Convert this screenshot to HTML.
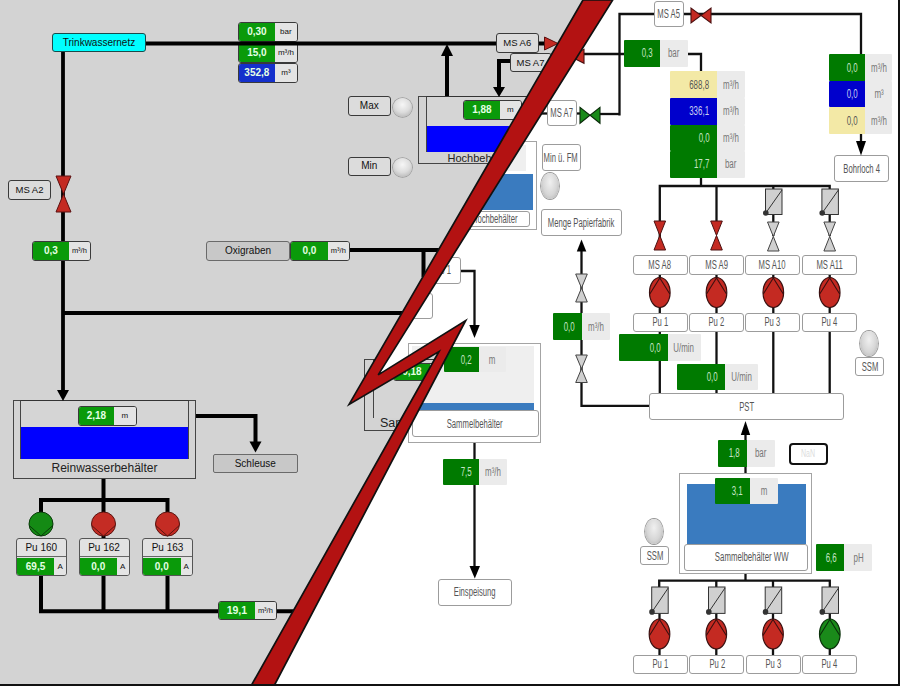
<!DOCTYPE html>
<html><head><meta charset="utf-8"><style>
*{margin:0;padding:0;box-sizing:border-box}
html,body{width:900px;height:686px;overflow:hidden;background:#fff;font-family:"Liberation Sans", sans-serif}
.layer{position:absolute;left:0;top:0;width:900px;height:686px;overflow:hidden}
svg{position:absolute;left:0;top:0}
.lb{position:absolute;border:1px solid;display:flex;align-items:center;justify-content:center;white-space:nowrap;line-height:1}
.lv{position:absolute;border:1px solid #3a3a3a;border-radius:3px;overflow:hidden;display:flex}
.lvg{height:100%;display:flex;align-items:center;justify-content:center;font-weight:bold;line-height:1;white-space:nowrap}
.lvu{height:100%;background:#e4e4e4;color:#111;display:flex;align-items:center;justify-content:center;line-height:1;white-space:nowrap;}
.ltank{position:absolute;border:1px solid #444;background:#d3d3d3}
.ltin{position:absolute;border:1px solid #444;border-top:1.4px solid #333;border-bottom:none;background:#d5d5d5}
.ltxt{position:absolute;text-align:center;color:#222;line-height:1;white-space:nowrap}
.lamp{position:absolute;border-radius:50%;background:radial-gradient(circle at 50% 35%, #f6f6f6 0%, #dcdcdc 50%, #a8a8a8 100%);box-shadow:0 0 0 0.8px #999}
.rb{position:absolute;border:1.3px solid;border-radius:3px;display:flex;align-items:center;justify-content:center;white-space:nowrap;line-height:1;overflow:visible}
.rb span{display:inline-block}
.rv{position:absolute;display:flex;border-radius:1px;overflow:hidden}
.rvg{height:100%;display:flex;align-items:center;justify-content:flex-end;padding-right:7.2px;white-space:nowrap;line-height:1}
.rvg span,.rvu span{display:inline-block}
.rvu{height:100%;background:#ebebeb;color:#777;display:flex;align-items:center;justify-content:center;white-space:nowrap;line-height:1}
.rtank{position:absolute;border:1.3px solid #a4a4a4;background:#fff}
.rlamp{position:absolute;border-radius:50%;background:radial-gradient(ellipse at 50% 35%, #f0f0f0 0%, #d6d6d6 55%, #aaaaaa 100%);box-shadow:0 0 0 0.9px #999}
</style></head><body>
<div class="layer" id="right" style="background:#fff">
<svg width="900" height="686"><polyline points="583,54 624,54" fill="none" stroke="#111" stroke-width="2.3" stroke-linejoin="miter"/><polyline points="528,113.5 547,113.5" fill="none" stroke="#111" stroke-width="2.3" stroke-linejoin="miter"/><polyline points="576,113.5 581,113.5" fill="none" stroke="#111" stroke-width="2.3" stroke-linejoin="miter"/><polyline points="688,54 701,54 701,72" fill="none" stroke="#111" stroke-width="2.3" stroke-linejoin="miter"/><polyline points="619.5,114 600,114" fill="none" stroke="#111" stroke-width="2.3" stroke-linejoin="miter"/><polyline points="619.5,115.5 619.5,14 654,14" fill="none" stroke="#111" stroke-width="2.3" stroke-linejoin="miter"/><polyline points="684,14 861,14 861,55" fill="none" stroke="#111" stroke-width="2.3" stroke-linejoin="miter"/><polyline points="861,134 861,142" fill="none" stroke="#111" stroke-width="2.3" stroke-linejoin="miter"/><polyline points="701,177 701,186" fill="none" stroke="#111" stroke-width="2.3" stroke-linejoin="miter"/><polyline points="659.8,244 659.8,186 829.7,186 829.7,200" fill="none" stroke="#111" stroke-width="2.3" stroke-linejoin="miter"/><polyline points="716.5,186 716.5,222" fill="none" stroke="#111" stroke-width="2.3" stroke-linejoin="miter"/><polyline points="773.3,186 773.3,200" fill="none" stroke="#111" stroke-width="2.3" stroke-linejoin="miter"/><polyline points="659.8,262 659.8,393" fill="none" stroke="#111" stroke-width="2.3" stroke-linejoin="miter"/><polyline points="716.5,262 716.5,393" fill="none" stroke="#111" stroke-width="2.3" stroke-linejoin="miter"/><polyline points="773.3,262 773.3,393" fill="none" stroke="#111" stroke-width="2.3" stroke-linejoin="miter"/><polyline points="829.7,262 829.7,393" fill="none" stroke="#111" stroke-width="2.3" stroke-linejoin="miter"/><polyline points="773.3,214 773.3,236" fill="none" stroke="#111" stroke-width="2.3" stroke-linejoin="miter"/><polyline points="829.7,214 829.7,236" fill="none" stroke="#111" stroke-width="2.3" stroke-linejoin="miter"/><polyline points="581.5,250 581.5,405.8 649,405.8" fill="none" stroke="#111" stroke-width="2.3" stroke-linejoin="miter"/><polyline points="461,271 474.5,271 474.5,326" fill="none" stroke="#111" stroke-width="2.3" stroke-linejoin="miter"/><polyline points="474.5,443 474.5,567" fill="none" stroke="#111" stroke-width="2.3" stroke-linejoin="miter"/><polyline points="745.5,434 745.5,484" fill="none" stroke="#111" stroke-width="2.3" stroke-linejoin="miter"/><polyline points="745.5,570 745.5,580.7" fill="none" stroke="#111" stroke-width="2.3" stroke-linejoin="miter"/><polyline points="659.2,590 659.2,580.7 829.8,580.7 829.8,590" fill="none" stroke="#111" stroke-width="2.3" stroke-linejoin="miter"/><polyline points="716.3,580.7 716.3,590" fill="none" stroke="#111" stroke-width="2.3" stroke-linejoin="miter"/><polyline points="773,580.7 773,590" fill="none" stroke="#111" stroke-width="2.3" stroke-linejoin="miter"/><polyline points="659.5,612 659.5,655" fill="none" stroke="#111" stroke-width="2.3" stroke-linejoin="miter"/><polyline points="716.3,612 716.3,655" fill="none" stroke="#111" stroke-width="2.3" stroke-linejoin="miter"/><polyline points="773,612 773,655" fill="none" stroke="#111" stroke-width="2.3" stroke-linejoin="miter"/><polyline points="829.8,612 829.8,655" fill="none" stroke="#111" stroke-width="2.3" stroke-linejoin="miter"/></svg>
<div class="rb" style="left:654px;top:1px;width:30px;height:26px;border-color:#9c9c9c;background:#fff;color:#555;"><span style="font-size:12px;transform:scaleX(0.64)">MS A5</span></div><div class="rv" style="left:624px;top:40px;width:64px;height:26.5px;"><div class="rvg" style="width:36px;background:#007a00;color:#c4e4c4"><span style="font-size:12px;transform:scaleX(0.66);transform-origin:right center">0,3</span></div><div class="rvu" style="width:28px"><span style="font-size:12px;transform:scaleX(0.66)">bar</span></div></div><div class="rv" style="left:669.5px;top:71px;width:75.5px;height:27px;"><div class="rvg" style="width:47px;background:#f3e9a6;color:#555"><span style="font-size:12px;transform:scaleX(0.66);transform-origin:right center">688,8</span></div><div class="rvu" style="width:28.5px"><span style="font-size:12px;transform:scaleX(0.66)">m&sup3;/h</span></div></div><div class="rv" style="left:669.5px;top:98px;width:75.5px;height:26.5px;"><div class="rvg" style="width:47px;background:#0000cc;color:#c8d0f0"><span style="font-size:12px;transform:scaleX(0.66);transform-origin:right center">336,1</span></div><div class="rvu" style="width:28.5px"><span style="font-size:12px;transform:scaleX(0.66)">m&sup3;/h</span></div></div><div class="rv" style="left:669.5px;top:124.5px;width:75.5px;height:26.5px;"><div class="rvg" style="width:47px;background:#007a00;color:#c4e4c4"><span style="font-size:12px;transform:scaleX(0.66);transform-origin:right center">0,0</span></div><div class="rvu" style="width:28.5px"><span style="font-size:12px;transform:scaleX(0.66)">m&sup3;/h</span></div></div><div class="rv" style="left:669.5px;top:151px;width:75.5px;height:26.5px;"><div class="rvg" style="width:47px;background:#007a00;color:#c4e4c4"><span style="font-size:12px;transform:scaleX(0.66);transform-origin:right center">17,7</span></div><div class="rvu" style="width:28.5px"><span style="font-size:12px;transform:scaleX(0.66)">bar</span></div></div><div class="rv" style="left:829px;top:54.3px;width:63px;height:26.5px;"><div class="rvg" style="width:36px;background:#007a00;color:#c4e4c4"><span style="font-size:12px;transform:scaleX(0.66);transform-origin:right center">0,0</span></div><div class="rvu" style="width:27px"><span style="font-size:12px;transform:scaleX(0.66)">m&sup3;/h</span></div></div><div class="rv" style="left:829px;top:80.8px;width:63px;height:26.5px;"><div class="rvg" style="width:36px;background:#0000cc;color:#c8d0f0"><span style="font-size:12px;transform:scaleX(0.66);transform-origin:right center">0,0</span></div><div class="rvu" style="width:27px"><span style="font-size:12px;transform:scaleX(0.66)">m&sup3;</span></div></div><div class="rv" style="left:829px;top:107.3px;width:63px;height:26.5px;"><div class="rvg" style="width:36px;background:#f3e9a6;color:#555"><span style="font-size:12px;transform:scaleX(0.66);transform-origin:right center">0,0</span></div><div class="rvu" style="width:27px"><span style="font-size:12px;transform:scaleX(0.66)">m&sup3;/h</span></div></div><div class="rb" style="left:833.5px;top:155px;width:55.5px;height:27px;border-color:#9c9c9c;background:#fff;color:#555;"><span style="font-size:12px;transform:scaleX(0.64)">Bohrloch 4</span></div><div class="rb" style="left:546.5px;top:100px;width:30px;height:26px;border-color:#9c9c9c;background:#fff;color:#555;"><span style="font-size:12px;transform:scaleX(0.64)">MS A7</span></div><div class="rb" style="left:541.5px;top:143.5px;width:39px;height:27.5px;border-color:#9c9c9c;background:#fff;color:#555;padding-top:2px"><span style="font-size:12px;transform:scaleX(0.64)">Min &uuml;. FM</span></div><div class="rb" style="left:540.5px;top:209px;width:81.5px;height:27px;border-color:#9c9c9c;background:#fff;color:#555;"><span style="font-size:12px;transform:scaleX(0.64)">Menge Papierfabrik</span></div><div class="rv" style="left:552.5px;top:313px;width:57.5px;height:27px;"><div class="rvg" style="width:29px;background:#007a00;color:#c4e4c4"><span style="font-size:12px;transform:scaleX(0.66);transform-origin:right center">0,0</span></div><div class="rvu" style="width:28.5px"><span style="font-size:12px;transform:scaleX(0.66)">m&sup3;/h</span></div></div><div class="rb" style="left:632.5px;top:255px;width:55px;height:19.5px;border-color:#9c9c9c;background:#fff;color:#555;"><span style="font-size:12px;transform:scaleX(0.64)">MS A8</span></div><div class="rb" style="left:688.8px;top:255px;width:55px;height:19.5px;border-color:#9c9c9c;background:#fff;color:#555;"><span style="font-size:12px;transform:scaleX(0.64)">MS A9</span></div><div class="rb" style="left:745px;top:255px;width:55px;height:19.5px;border-color:#9c9c9c;background:#fff;color:#555;"><span style="font-size:12px;transform:scaleX(0.64)">MS A10</span></div><div class="rb" style="left:802px;top:255px;width:55px;height:19.5px;border-color:#9c9c9c;background:#fff;color:#555;"><span style="font-size:12px;transform:scaleX(0.64)">MS A11</span></div><div class="rb" style="left:632.5px;top:312.5px;width:55px;height:19px;border-color:#9c9c9c;background:#fff;color:#555;"><span style="font-size:12px;transform:scaleX(0.64)">Pu 1</span></div><div class="rb" style="left:688.8px;top:312.5px;width:55px;height:19px;border-color:#9c9c9c;background:#fff;color:#555;"><span style="font-size:12px;transform:scaleX(0.64)">Pu 2</span></div><div class="rb" style="left:745px;top:312.5px;width:55px;height:19px;border-color:#9c9c9c;background:#fff;color:#555;"><span style="font-size:12px;transform:scaleX(0.64)">Pu 3</span></div><div class="rb" style="left:802px;top:312.5px;width:55px;height:19px;border-color:#9c9c9c;background:#fff;color:#555;"><span style="font-size:12px;transform:scaleX(0.64)">Pu 4</span></div><div class="rv" style="left:619px;top:334px;width:81.5px;height:27px;"><div class="rvg" style="width:48.5px;background:#007a00;color:#c4e4c4"><span style="font-size:12px;transform:scaleX(0.66);transform-origin:right center">0,0</span></div><div class="rvu" style="width:33px"><span style="font-size:12px;transform:scaleX(0.66)">U/min</span></div></div><div class="rv" style="left:676.5px;top:363.5px;width:81.2px;height:26.5px;"><div class="rvg" style="width:48.2px;background:#007a00;color:#c4e4c4"><span style="font-size:12px;transform:scaleX(0.66);transform-origin:right center">0,0</span></div><div class="rvu" style="width:33px"><span style="font-size:12px;transform:scaleX(0.66)">U/min</span></div></div><div class="rb" style="left:649.3px;top:393.3px;width:194.4px;height:27px;border-color:#9c9c9c;background:#fff;color:#555;"><span style="font-size:12px;transform:scaleX(0.64)">PST</span></div><div class="rb" style="left:854.8px;top:357px;width:29.5px;height:19px;border-color:#9c9c9c;background:#fff;color:#555;"><span style="font-size:12px;transform:scaleX(0.64)">SSM</span></div><div class="rb" style="left:640.2px;top:546.3px;width:29.3px;height:18.5px;border-color:#9c9c9c;background:#fff;color:#555;"><span style="font-size:12px;transform:scaleX(0.64)">SSM</span></div><div class="rb" style="left:632.7px;top:654.7px;width:55px;height:19px;border-color:#9c9c9c;background:#fff;color:#555;"><span style="font-size:12px;transform:scaleX(0.64)">Pu 1</span></div><div class="rb" style="left:689.4px;top:654.7px;width:55px;height:19px;border-color:#9c9c9c;background:#fff;color:#555;"><span style="font-size:12px;transform:scaleX(0.64)">Pu 2</span></div><div class="rb" style="left:746.2px;top:654.7px;width:55px;height:19px;border-color:#9c9c9c;background:#fff;color:#555;"><span style="font-size:12px;transform:scaleX(0.64)">Pu 3</span></div><div class="rb" style="left:802.3px;top:654.7px;width:55px;height:19px;border-color:#9c9c9c;background:#fff;color:#555;"><span style="font-size:12px;transform:scaleX(0.64)">Pu 4</span></div><div class="rb" style="left:437.6px;top:579px;width:74px;height:26.5px;border-color:#9c9c9c;background:#fff;color:#555;"><span style="font-size:12px;transform:scaleX(0.64)">Einspeisung</span></div><div class="rv" style="left:443px;top:458.6px;width:63.5px;height:26.5px;"><div class="rvg" style="width:36px;background:#007a00;color:#c4e4c4"><span style="font-size:12px;transform:scaleX(0.66);transform-origin:right center">7,5</span></div><div class="rvu" style="width:27.5px"><span style="font-size:12px;transform:scaleX(0.66)">m&sup3;/h</span></div></div><div class="rv" style="left:718px;top:440px;width:56.7px;height:26.5px;"><div class="rvg" style="width:29.2px;background:#007a00;color:#c4e4c4"><span style="font-size:12px;transform:scaleX(0.66);transform-origin:right center">1,8</span></div><div class="rvu" style="width:27.5px"><span style="font-size:12px;transform:scaleX(0.66)">bar</span></div></div><div class="rb" style="left:788.5px;top:443px;width:39px;height:21.5px;border:2.5px solid #111;border-radius:4px;box-sizing:border-box;color:#ddd"><span style="font-size:10px;transform:scaleX(0.7)">NaN</span></div><div class="rv" style="left:815.7px;top:544px;width:56.7px;height:27px;"><div class="rvg" style="width:28.5px;background:#007a00;color:#c4e4c4"><span style="font-size:12px;transform:scaleX(0.66);transform-origin:right center">6,6</span></div><div class="rvu" style="width:28.2px"><span style="font-size:12px;transform:scaleX(0.66)">pH</span></div></div><div class="rtank" style="left:408px;top:343px;width:133.4px;height:100px;"></div><div style="position:absolute;left:412px;top:346px;width:122px;height:64px;background:#efefef"></div><div style="position:absolute;left:414px;top:402.7px;width:120px;height:8px;background:#3a7bbf"></div><div class="rb" style="left:411.6px;top:410.4px;width:127px;height:27px;border-color:#9c9c9c;background:#fff;color:#555;"><span style="font-size:12px;transform:scaleX(0.64)">Sammelbeh&auml;lter</span></div><div class="rv" style="left:443.5px;top:346.7px;width:62.5px;height:25.8px;"><div class="rvg" style="width:35.2px;background:#007a00;color:#c4e4c4"><span style="font-size:12px;transform:scaleX(0.66);transform-origin:right center">0,2</span></div><div class="rvu" style="width:27.3px"><span style="font-size:12px;transform:scaleX(0.66)">m</span></div></div><div class="rtank" style="left:470px;top:141.4px;width:66.6px;height:88.6px;"></div><div style="position:absolute;left:470px;top:144.7px;width:55.6px;height:26.3px;background:#efefef"></div><div style="position:absolute;left:470px;top:174.2px;width:62.6px;height:36px;background:#3a7bbf"></div><div class="rb" style="left:458px;top:211.4px;width:72.4px;height:15.3px;border-color:#9c9c9c;background:#fff;color:#555;"><span style="font-size:12px;transform:scaleX(0.64)">Hochbeh&auml;lter</span></div><div class="rtank" style="left:679px;top:473.4px;width:133.2px;height:100.4px;"></div><div style="position:absolute;left:686.7px;top:484.4px;width:119px;height:59.2px;background:#3a7bbf"></div><div class="rb" style="left:683.6px;top:543.6px;width:124.4px;height:27px;border-color:#9c9c9c;background:#fff;color:#555;padding-left:11px"><span style="font-size:12px;transform:scaleX(0.65)">Sammelbeh&auml;lter WW</span></div><div class="rv" style="left:714.5px;top:478.2px;width:63.3px;height:26.2px;"><div class="rvg" style="width:35.8px;background:#007a00;color:#c4e4c4"><span style="font-size:12px;transform:scaleX(0.66);transform-origin:right center">3,1</span></div><div class="rvu" style="width:27.5px"><span style="font-size:12px;transform:scaleX(0.66)">m</span></div></div><div class="rb" style="left:420px;top:257px;width:41px;height:26.5px;border-color:#9c9c9c;background:#fff;color:#555;"><span style="font-size:12px;transform:scaleX(0.64)">Sieb 1</span></div><div class="rb" style="left:390px;top:293px;width:43px;height:26px;border-color:#9c9c9c;background:#fff;color:#555;"><span style="font-size:12px;transform:scaleX(0.64)"></span></div><div class="rlamp" style="left:541px;top:173.3px;width:18px;height:25.4px;"></div><div class="rlamp" style="left:860px;top:330.7px;width:18px;height:25.4px;"></div><div class="rlamp" style="left:645.4px;top:518.8px;width:18px;height:25.4px;"></div>
<svg width="900" height="686"><polygon points="856,141 866,141 861,155.5" fill="#000" stroke="none" stroke-width="1"/><polygon points="576.8,251.6 586.3,251.6 581.5,239.5" fill="#000" stroke="none" stroke-width="1"/><polygon points="469.3,325 479.7,325 474.5,338" fill="#000" stroke="none" stroke-width="1"/><polygon points="469.5,566 480,566 474.8,578.5" fill="#000" stroke="none" stroke-width="1"/><polygon points="740.8,435 750.2,435 745.5,421" fill="#000" stroke="none" stroke-width="1"/><polygon points="691,8.0 691,23.0 701,15.5" fill="#c42a22" stroke="#4a1010" stroke-width="1.1"/><polygon points="711,8.0 711,23.0 701,15.5" fill="#c42a22" stroke="#4a1010" stroke-width="1.1"/><polygon points="556,49.3 556,63.3 570,56.3" fill="#c42a22" stroke="#4a1010" stroke-width="1.1"/><polygon points="584,49.3 584,63.3 570,56.3" fill="#c42a22" stroke="#4a1010" stroke-width="1.1"/><polygon points="580,107.3 580,123.3 590,115.3" fill="#1a8a1a" stroke="#0a2a0a" stroke-width="1.1"/><polygon points="600,107.3 600,123.3 590,115.3" fill="#1a8a1a" stroke="#0a2a0a" stroke-width="1.1"/><polygon points="654.0,221 665.5999999999999,221 659.8,235.5" fill="#c42a22" stroke="#4a1010" stroke-width="1"/><polygon points="654.0,250 665.5999999999999,250 659.8,235.5" fill="#c42a22" stroke="#4a1010" stroke-width="1"/><polygon points="710.7,221 722.3,221 716.5,235.5" fill="#c42a22" stroke="#4a1010" stroke-width="1"/><polygon points="710.7,250 722.3,250 716.5,235.5" fill="#c42a22" stroke="#4a1010" stroke-width="1"/><polygon points="767.5,222 779.0999999999999,222 773.3,236.5" fill="#d0d0d0" stroke="#444" stroke-width="1"/><polygon points="767.5,251 779.0999999999999,251 773.3,236.5" fill="#d0d0d0" stroke="#444" stroke-width="1"/><polygon points="823.9000000000001,222 835.5,222 829.7,236.5" fill="#d0d0d0" stroke="#444" stroke-width="1"/><polygon points="823.9000000000001,251 835.5,251 829.7,236.5" fill="#d0d0d0" stroke="#444" stroke-width="1"/><polygon points="575.7,274 587.3,274 581.5,288.0" fill="#d0d0d0" stroke="#444" stroke-width="1"/><polygon points="575.7,302 587.3,302 581.5,288.0" fill="#d0d0d0" stroke="#444" stroke-width="1"/><polygon points="575.7,355 587.3,355 581.5,368.75" fill="#d0d0d0" stroke="#444" stroke-width="1"/><polygon points="575.7,382.5 587.3,382.5 581.5,368.75" fill="#d0d0d0" stroke="#444" stroke-width="1"/><rect x="765.5" y="189" width="16.5" height="25.5" fill="#d0d0d0" stroke="#333" stroke-width="1"/><line x1="765.8" y1="213.0" x2="782.0" y2="190" stroke="#333" stroke-width="1"/><circle cx="765.8" cy="213.0" r="2.8" fill="#333"/><rect x="821.9000000000001" y="189" width="16.5" height="25.5" fill="#d0d0d0" stroke="#333" stroke-width="1"/><line x1="822.2" y1="213.0" x2="838.4000000000001" y2="190" stroke="#333" stroke-width="1"/><circle cx="822.2" cy="213.0" r="2.8" fill="#333"/><rect x="651.7" y="587" width="16.5" height="26.399999999999977" fill="#d0d0d0" stroke="#333" stroke-width="1"/><line x1="652.0" y1="611.9" x2="668.2" y2="588" stroke="#333" stroke-width="1"/><circle cx="652.0" cy="611.9" r="2.8" fill="#333"/><rect x="708.5" y="587" width="16.5" height="26.399999999999977" fill="#d0d0d0" stroke="#333" stroke-width="1"/><line x1="708.8" y1="611.9" x2="725.0" y2="588" stroke="#333" stroke-width="1"/><circle cx="708.8" cy="611.9" r="2.8" fill="#333"/><rect x="765.2" y="587" width="16.5" height="26.399999999999977" fill="#d0d0d0" stroke="#333" stroke-width="1"/><line x1="765.5" y1="611.9" x2="781.7" y2="588" stroke="#333" stroke-width="1"/><circle cx="765.5" cy="611.9" r="2.8" fill="#333"/><rect x="822.0" y="587" width="16.5" height="26.399999999999977" fill="#d0d0d0" stroke="#333" stroke-width="1"/><line x1="822.3" y1="611.9" x2="838.5" y2="588" stroke="#333" stroke-width="1"/><circle cx="822.3" cy="611.9" r="2.8" fill="#333"/><ellipse cx="659.8" cy="292.5" rx="10.3" ry="15" fill="#c42a22" stroke="#3a1010" stroke-width="1.2"/><polyline points="649.8,294.0 659.8,278.0 669.8,294.0" fill="none" stroke="#3a1010" stroke-width="1.1"/><ellipse cx="716.5" cy="292.5" rx="10.3" ry="15" fill="#c42a22" stroke="#3a1010" stroke-width="1.2"/><polyline points="706.5,294.0 716.5,278.0 726.5,294.0" fill="none" stroke="#3a1010" stroke-width="1.1"/><ellipse cx="773.3" cy="292.5" rx="10.3" ry="15" fill="#c42a22" stroke="#3a1010" stroke-width="1.2"/><polyline points="763.3,294.0 773.3,278.0 783.3,294.0" fill="none" stroke="#3a1010" stroke-width="1.1"/><ellipse cx="829.7" cy="292.5" rx="10.3" ry="15" fill="#c42a22" stroke="#3a1010" stroke-width="1.2"/><polyline points="819.7,294.0 829.7,278.0 839.7,294.0" fill="none" stroke="#3a1010" stroke-width="1.1"/><ellipse cx="659.5" cy="634" rx="10.3" ry="15" fill="#c42a22" stroke="#3a1010" stroke-width="1.2"/><polyline points="649.5,635.5 659.5,619.5 669.5,635.5" fill="none" stroke="#3a1010" stroke-width="1.1"/><ellipse cx="716.3" cy="634" rx="10.3" ry="15" fill="#c42a22" stroke="#3a1010" stroke-width="1.2"/><polyline points="706.3,635.5 716.3,619.5 726.3,635.5" fill="none" stroke="#3a1010" stroke-width="1.1"/><ellipse cx="773" cy="634" rx="10.3" ry="15" fill="#c42a22" stroke="#3a1010" stroke-width="1.2"/><polyline points="763,635.5 773,619.5 783,635.5" fill="none" stroke="#3a1010" stroke-width="1.1"/><ellipse cx="829.8" cy="634" rx="10.3" ry="15" fill="#1a8a1a" stroke="#0a300a" stroke-width="1.2"/><polyline points="819.8,635.5 829.8,619.5 839.8,635.5" fill="none" stroke="#0a300a" stroke-width="1.1"/></svg>
</div>
<div class="layer" id="left" style="background:#d3d3d3;clip-path:polygon(0px 0px, 598px 0px, 349.1px 404.4px, 465.7px 320.5px, 263px 686px, 0px 686px)">
<svg width="900" height="686"><polyline points="538,43.5 546,43.5" fill="none" stroke="#000" stroke-width="4" stroke-linejoin="miter" stroke-linecap="butt"/><polyline points="63,52 63,392" fill="none" stroke="#000" stroke-width="3.8" stroke-linejoin="miter" stroke-linecap="butt"/><polyline points="63,313 600,313" fill="none" stroke="#000" stroke-width="4" stroke-linejoin="miter" stroke-linecap="butt"/><polyline points="290,250 440,250" fill="none" stroke="#000" stroke-width="4" stroke-linejoin="miter" stroke-linecap="butt"/><polyline points="423.5,250 423.5,277" fill="none" stroke="#000" stroke-width="4" stroke-linejoin="miter" stroke-linecap="butt"/><polyline points="447,56 447,97" fill="none" stroke="#000" stroke-width="4" stroke-linejoin="miter" stroke-linecap="butt"/><polyline points="510,61 499,61 499,87" fill="none" stroke="#000" stroke-width="4" stroke-linejoin="miter" stroke-linecap="butt"/><polyline points="196,416 255.5,416 255.5,442" fill="none" stroke="#000" stroke-width="4" stroke-linejoin="miter" stroke-linecap="butt"/><polyline points="103.5,479 103.5,538" fill="none" stroke="#000" stroke-width="4" stroke-linejoin="miter" stroke-linecap="butt"/><polyline points="41,500 167.5,500" fill="none" stroke="#000" stroke-width="4" stroke-linejoin="miter" stroke-linecap="butt"/><polyline points="41,498 41,512" fill="none" stroke="#000" stroke-width="4" stroke-linejoin="miter" stroke-linecap="butt"/><polyline points="167.5,498 167.5,512" fill="none" stroke="#000" stroke-width="4" stroke-linejoin="miter" stroke-linecap="butt"/><polyline points="41,576 41,611.3 218,611.3" fill="none" stroke="#000" stroke-width="4" stroke-linejoin="miter" stroke-linecap="butt"/><polyline points="103.5,576 103.5,611.3" fill="none" stroke="#000" stroke-width="4" stroke-linejoin="miter" stroke-linecap="butt"/><polyline points="167.5,576 167.5,611.3" fill="none" stroke="#000" stroke-width="4" stroke-linejoin="miter" stroke-linecap="butt"/><polyline points="277,611.3 300,611.3" fill="none" stroke="#000" stroke-width="4" stroke-linejoin="miter" stroke-linecap="butt"/></svg>
<div class="lb" style="left:52px;top:33px;width:94px;height:19px;background:#00ffff;border-color:#1a4a4a;border-radius:3px;font-size:10px;color:#111;">Trinkwassernetz</div><div class="lv" style="left:238px;top:22px;width:60px;height:20px;"><div class="lvg" style="width:37px;background:#0a9a0a;font-size:10px;color:#e4ffe4">0,30</div><div class="lvu" style="width:23px;font-size:8px">bar</div></div><div class="lv" style="left:238px;top:42px;width:60px;height:21px;"><div class="lvg" style="width:37px;background:#0a9a0a;font-size:10px;color:#e4ffe4">15,0</div><div class="lvu" style="width:23px;font-size:8px">m&sup3;/h</div></div><div class="lv" style="left:238px;top:63px;width:60px;height:20px;"><div class="lvg" style="width:37px;background:#1430cc;font-size:10px;color:#e4ffe4">352,8</div><div class="lvu" style="width:23px;font-size:8px">m&sup3;</div></div><div class="lb" style="left:8px;top:180px;width:43px;height:19.5px;background:#dcdcdc;border-color:#3a3a3a;border-radius:3px;font-size:9.5px;color:#111;">MS A2</div><div class="lv" style="left:32px;top:241px;width:59px;height:19.5px;"><div class="lvg" style="width:37px;background:#0a9a0a;font-size:10px;color:#e4ffe4">0,3</div><div class="lvu" style="width:22px;font-size:7.5px">m&sup3;/h</div></div><div class="lb" style="left:206px;top:241px;width:84px;height:19.5px;background:#c8c8c8;border-color:#6a6a6a;border-radius:3px;font-size:10px;color:#111;">Oxigraben</div><div class="lv" style="left:290px;top:241px;width:60px;height:19.5px;"><div class="lvg" style="width:38px;background:#0a9a0a;font-size:10px;color:#e4ffe4">0,0</div><div class="lvu" style="width:22px;font-size:7.5px">m&sup3;/h</div></div><div class="lb" style="left:348px;top:96px;width:42.5px;height:19.5px;background:#dcdcdc;border-color:#3a3a3a;border-radius:3px;font-size:10px;color:#111;">Max</div><div class="lb" style="left:348px;top:156.5px;width:42.5px;height:19.5px;background:#dcdcdc;border-color:#3a3a3a;border-radius:3px;font-size:10px;color:#111;">Min</div><div class="lb" style="left:496px;top:33px;width:42.5px;height:19.5px;background:#dcdcdc;border-color:#3a3a3a;border-radius:3px;font-size:9.5px;color:#111;">MS A6</div><div class="lb" style="left:509.5px;top:53px;width:42px;height:18.5px;background:#dcdcdc;border-color:#3a3a3a;border-radius:3px;font-size:9.5px;color:#111;">MS A7</div><div class="lb" style="left:213px;top:453.5px;width:84.5px;height:19.5px;background:#c8c8c8;border-color:#6a6a6a;border-radius:2px;font-size:10px;color:#111;padding-top:1.5px">Schleuse</div><div class="ltank" style="left:13px;top:400px;width:183px;height:79px;"></div><div class="ltin" style="left:20px;top:400px;width:169px;height:59px;"><div style="position:absolute;left:0;right:0;bottom:0;height:32px;background:#0000ff"></div></div><div class="ltxt" style="left:13px;top:462px;width:183px;font-size:12px">Reinwasserbeh&auml;lter</div><div class="lv" style="left:77.5px;top:406px;width:59px;height:19.5px;"><div class="lvg" style="width:37px;background:#0a9a0a;font-size:10px;color:#e4ffe4">2,18</div><div class="lvu" style="width:22px;font-size:8px">m</div></div><div class="ltank" style="left:418px;top:96px;width:160px;height:68px;"></div><div class="ltin" style="left:426px;top:96px;width:140px;height:55.5px;"><div style="position:absolute;left:0;right:0;bottom:0;height:26px;background:#0000ff"></div></div><div class="ltxt" style="left:447.5px;top:153px;width:100px;font-size:11px;text-align:left">Hochbeh&auml;lter</div><div class="lv" style="left:463px;top:100px;width:59px;height:19.5px;"><div class="lvg" style="width:37px;background:#0a9a0a;font-size:10px;color:#e4ffe4">1,88</div><div class="lvu" style="width:22px;font-size:8px">m</div></div><div class="ltank" style="left:364px;top:358.5px;width:120px;height:72px;"></div><div class="ltin" style="left:372.5px;top:358.5px;width:100px;height:59px;"></div><div class="ltxt" style="left:380px;top:417px;width:100px;font-size:12.5px;text-align:left">Sammelbeh&auml;lter</div><div class="lv" style="left:393px;top:362.5px;width:59px;height:18.5px;"><div class="lvg" style="width:37px;background:#0a9a0a;font-size:10px;color:#e4ffe4">0,18</div><div class="lvu" style="width:22px;font-size:8px">m</div></div><div style="position:absolute;left:15.8px;top:538.4px;width:51px;height:38px;border:1px solid #555;border-radius:3px;overflow:hidden;background:#e2e2e2"><div style="position:absolute;left:0;top:0;width:49px;height:18px;display:flex;align-items:center;justify-content:center;font-size:10px;color:#111;line-height:1;border-bottom:1px solid #666">Pu 160</div><div style="position:absolute;left:0;top:18.5px;width:37.5px;height:18.5px;background:#0a9a0a;display:flex;align-items:center;justify-content:center;font-size:10px;font-weight:bold;color:#e4ffe4;line-height:1">69,5</div><div style="position:absolute;left:37.5px;top:18.5px;width:11.5px;height:18.5px;background:#e4e4e4;display:flex;align-items:center;justify-content:center;font-size:8px;color:#111;line-height:1">A</div></div><div style="position:absolute;left:78.5px;top:538.4px;width:51px;height:38px;border:1px solid #555;border-radius:3px;overflow:hidden;background:#e2e2e2"><div style="position:absolute;left:0;top:0;width:49px;height:18px;display:flex;align-items:center;justify-content:center;font-size:10px;color:#111;line-height:1;border-bottom:1px solid #666">Pu 162</div><div style="position:absolute;left:0;top:18.5px;width:37.5px;height:18.5px;background:#0a9a0a;display:flex;align-items:center;justify-content:center;font-size:10px;font-weight:bold;color:#e4ffe4;line-height:1">0,0</div><div style="position:absolute;left:37.5px;top:18.5px;width:11.5px;height:18.5px;background:#e4e4e4;display:flex;align-items:center;justify-content:center;font-size:8px;color:#111;line-height:1">A</div></div><div style="position:absolute;left:142px;top:538.4px;width:51px;height:38px;border:1px solid #555;border-radius:3px;overflow:hidden;background:#e2e2e2"><div style="position:absolute;left:0;top:0;width:49px;height:18px;display:flex;align-items:center;justify-content:center;font-size:10px;color:#111;line-height:1;border-bottom:1px solid #666">Pu 163</div><div style="position:absolute;left:0;top:18.5px;width:37.5px;height:18.5px;background:#0a9a0a;display:flex;align-items:center;justify-content:center;font-size:10px;font-weight:bold;color:#e4ffe4;line-height:1">0,0</div><div style="position:absolute;left:37.5px;top:18.5px;width:11.5px;height:18.5px;background:#e4e4e4;display:flex;align-items:center;justify-content:center;font-size:8px;color:#111;line-height:1">A</div></div><div class="lv" style="left:218px;top:600.5px;width:59px;height:19.5px;"><div class="lvg" style="width:37px;background:#0a9a0a;font-size:10.5px;color:#e4ffe4">19,1</div><div class="lvu" style="width:22px;font-size:7.5px">m&sup3;/h</div></div><div class="lamp" style="left:393px;top:97.5px;width:19px;height:19px;"></div><div class="lamp" style="left:393px;top:157.5px;width:19px;height:19px;"></div>
<svg width="900" height="686"><polyline points="146,43.5 496,43.5" fill="none" stroke="#000" stroke-width="4" stroke-linejoin="miter" stroke-linecap="butt"/><polygon points="57,390 69,390 63,401" fill="#000" stroke="none" stroke-width="1"/><polygon points="441,56 453,56 447,44" fill="#000" stroke="none" stroke-width="1"/><polygon points="493,87 505,87 499,97" fill="#000" stroke="none" stroke-width="1"/><polygon points="249.5,441.5 261.5,441.5 255.5,452.5" fill="#000" stroke="none" stroke-width="1"/><polygon points="56,176 71,176 63.5,194" fill="#c42a22" stroke="#5a1010" stroke-width="1"/><polygon points="56,212 71,212 63.5,194" fill="#c42a22" stroke="#5a1010" stroke-width="1"/><polygon points="544.5,37 544.5,50 558,43.5" fill="#c42a22" stroke="#5a1010" stroke-width="1"/><polygon points="571.5,37 571.5,50 558,43.5" fill="#c42a22" stroke="#5a1010" stroke-width="1"/><circle cx="41" cy="524" r="12" fill="#148a14" stroke="#0a3a0a" stroke-width="1"/><polyline points="29.2,525.5 41,536 52.8,525.5" fill="none" stroke="#0a3a0a" stroke-width="1"/><circle cx="103.5" cy="524" r="12" fill="#c42c24" stroke="#5a1410" stroke-width="1"/><polyline points="91.7,525.5 103.5,536 115.3,525.5" fill="none" stroke="#5a1410" stroke-width="1"/><circle cx="167.5" cy="524" r="12" fill="#c42c24" stroke="#5a1410" stroke-width="1"/><polyline points="155.7,525.5 167.5,536 179.3,525.5" fill="none" stroke="#5a1410" stroke-width="1"/></svg>
</div>
<svg width="900" height="686" style="position:absolute;left:0;top:0">
<polygon points="583,0 349.1,404.4 439,351.5 251,686 274,686 465.7,320.5 378.2,374.9 612.7,0" fill="#b31212" stroke="#111" stroke-width="1.7" stroke-linejoin="miter"/>
<rect x="0" y="684" width="900" height="2" fill="#111"/>
<rect x="898" y="0" width="2" height="686" fill="#111"/>
</svg>
</body></html>
